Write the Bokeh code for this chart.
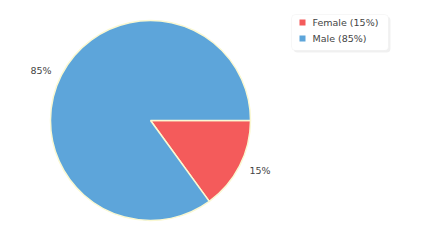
import math
from bokeh.plotting import figure
from bokeh.models import Range1d, BoxAnnotation, ColumnDataSource
from bokeh.core.properties import value
from bokeh.embed import file_html
from bokeh.resources import INLINE

labels = ["Female", "Male"]
values = [15, 85]
colors = ["#F45B5B", "#5DA5DA"]

W, H = 430, 250
p = figure(width=W, height=H, output_backend="svg", toolbar_location=None,
           x_range=Range1d(0, W), y_range=Range1d(0, H),
           min_border=0, outline_line_color=None)
p.axis.visible = False
p.grid.visible = False
p.background_fill_color = "white"
p.border_fill_color = "white"

cx, cy, r = 150, H - 120, 100
total = sum(values)
starts, ends, lx, ly, pct, align = [], [], [], [], [], []
a = 0.0
for v in values:
    sweep = 2 * math.pi * v / total
    starts.append(a)
    ends.append(a - sweep)
    mid = a - sweep / 2
    lx.append(cx + 111 * math.cos(mid))
    ly.append(cy + 111 * math.sin(mid))
    align.append("left" if math.cos(mid) >= 0 else "right")
    pct.append(f"{round(100 * v / total)}%")
    a -= sweep

src = ColumnDataSource(dict(start=starts, end=ends, color=colors,
                            lx=lx, ly=ly, pct=pct, align=align))
p.wedge(x=cx, y=cy, radius=r, start_angle="start", end_angle="end",
        direction="clock", fill_color="color", line_color="#FAF8D2",
        line_width=1.5, source=src)
p.text(x="lx", y="ly", text="pct", source=src, text_align="align",
       text_baseline="middle", text_font=value("DejaVu Sans"),
       text_font_size="9.5px", text_color="#444444")

# legend
p.add_layout(BoxAnnotation(left=293, right=390, top=H - 16, bottom=H - 52,
                           fill_color="#000000", fill_alpha=0.06,
                           line_color=None, border_radius=4, level="underlay"))
p.add_layout(BoxAnnotation(left=291, right=388, top=H - 14, bottom=H - 50,
                           fill_color="white", fill_alpha=1,
                           line_color="#E6E6E6", line_width=1, border_radius=4,
                           level="underlay"))
leg_y = [H - 22, H - 38]
leg_txt = [f"{l} ({round(100 * v / total)}%)" for l, v in zip(labels, values)]
lsrc = ColumnDataSource(dict(y=leg_y, color=colors, t=leg_txt))
p.scatter(x=302, y="y", marker="square", size=6, fill_color="color",
          line_color=None, source=lsrc)
p.text(x=312, y="y", text="t", source=lsrc, text_align="left",
       text_baseline="middle", text_font=value("DejaVu Sans"),
       text_font_size="9.5px", text_color="#444444")

open("out.html", "w").write(file_html(p, INLINE))
